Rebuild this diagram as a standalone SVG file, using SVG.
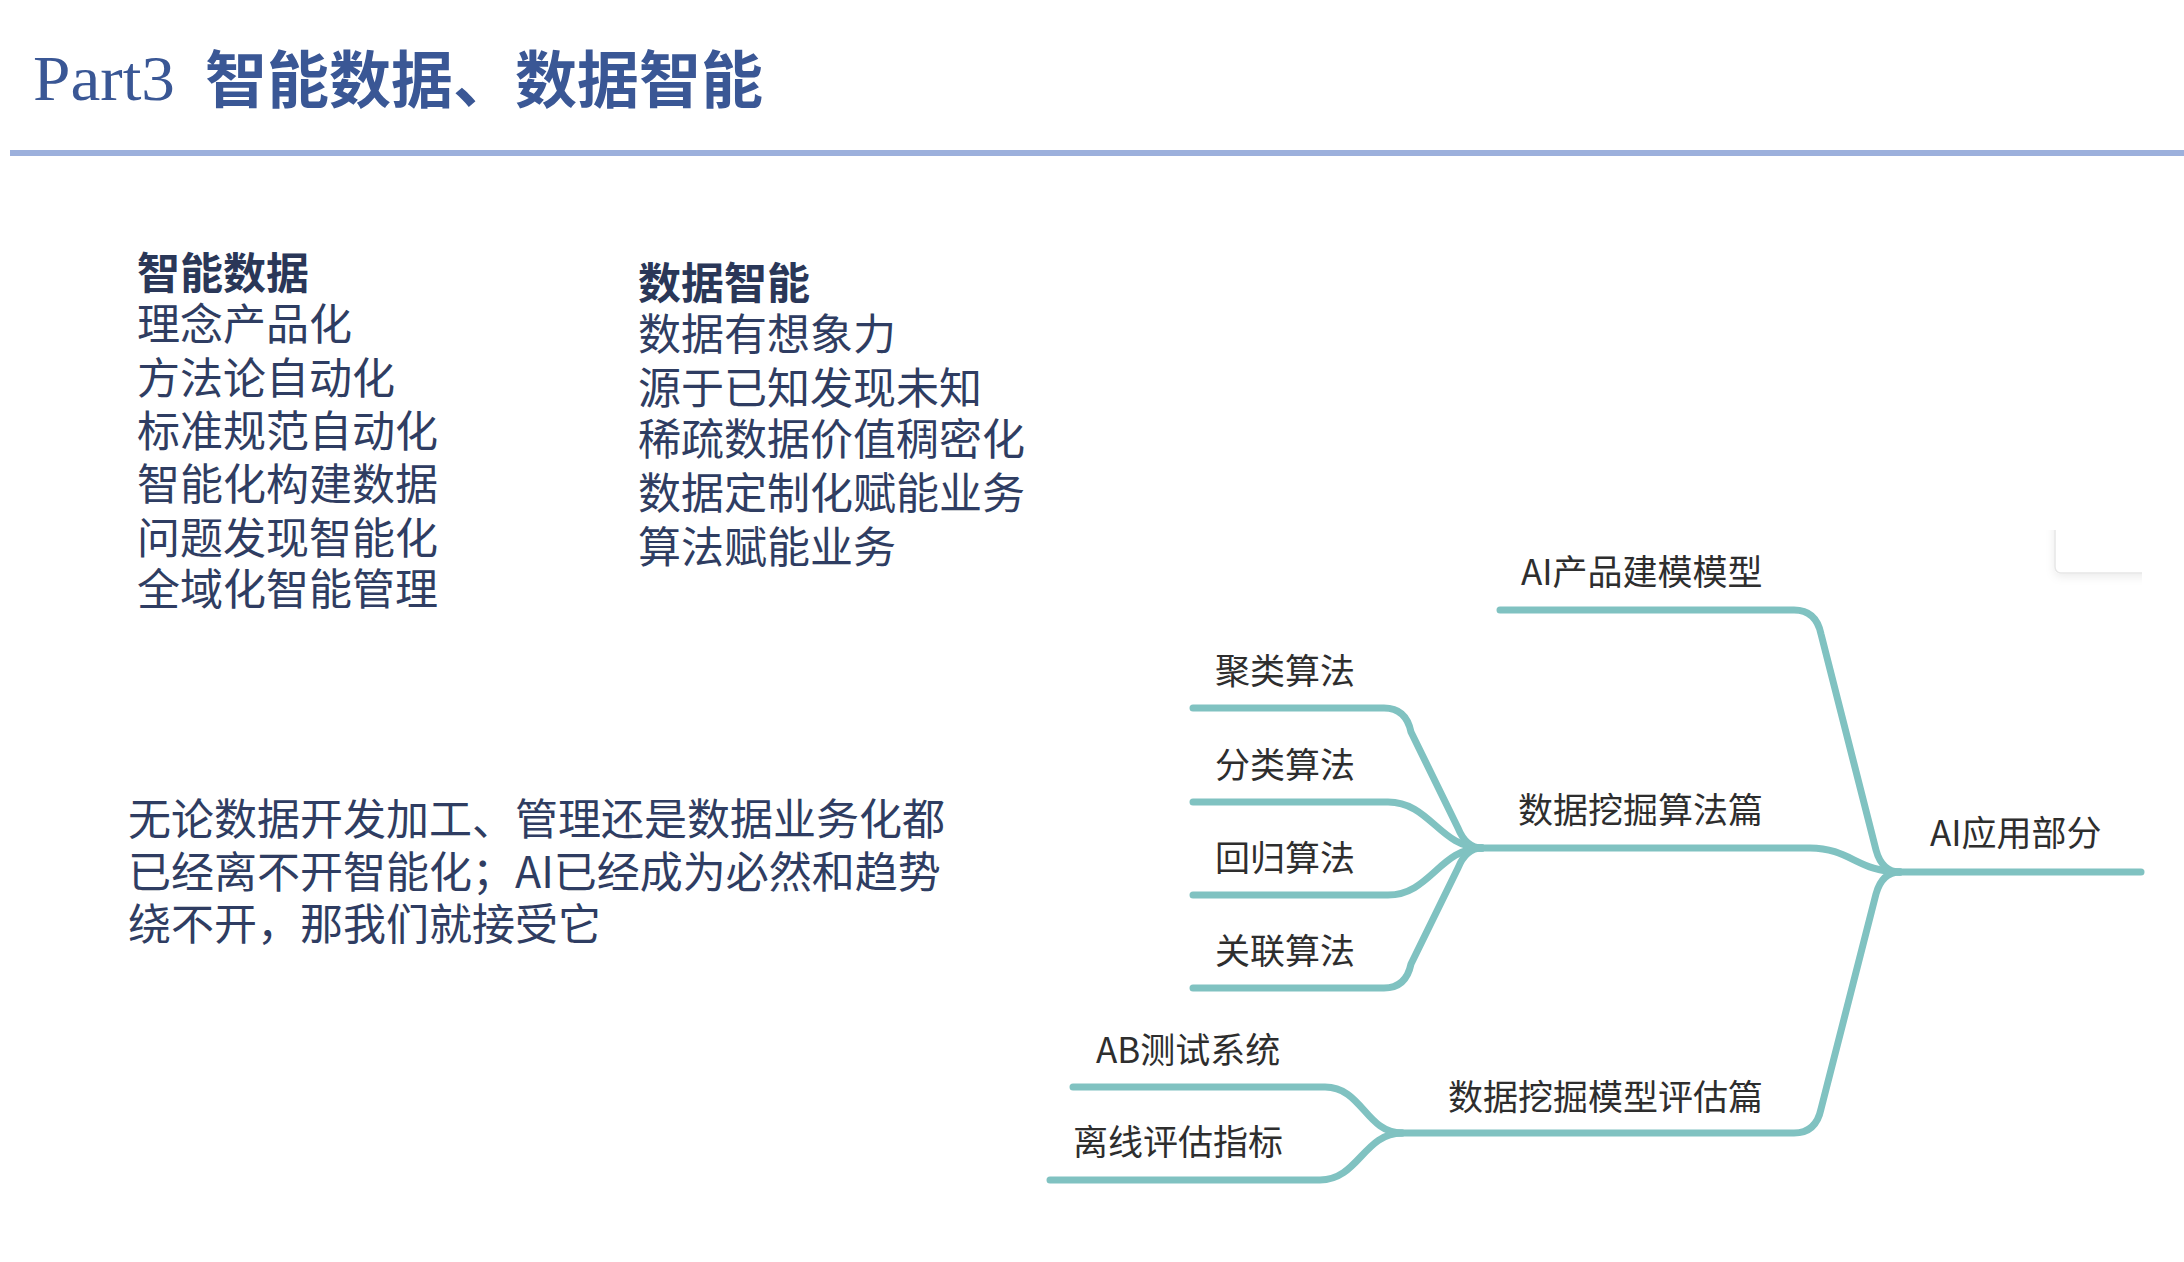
<svg xmlns="http://www.w3.org/2000/svg" width="2184" height="1262" viewBox="0 0 2184 1262">
<defs>
<style>
.cjk{font-family:"Noto Sans CJK SC","Noto Sans",sans-serif}
.ttl{fill:#3a5795;font-weight:bold;font-size:62px}
.hd{fill:#2a3758;font-weight:bold;font-size:43px}
.bd{fill:#2f3d62;font-size:43px}
.mm{fill:#2e2e2e;font-size:35px}
.br{fill:none;stroke:#80c2c1;stroke-width:7;stroke-linecap:round;stroke-linejoin:round}
</style>
<clipPath id="cardclip"><rect x="2030" y="530" width="112" height="70"/></clipPath>
<filter id="sh" x="-30%" y="-30%" width="160%" height="160%"><feDropShadow dx="0" dy="3" stdDeviation="5" flood-color="#000" flood-opacity="0.08"/></filter>
</defs>
<rect width="2184" height="1262" fill="#ffffff"/>

<g id="title">
<text x="33" y="100" font-family="Liberation Serif,serif" font-size="64" fill="#3a5795" textLength="142" lengthAdjust="spacingAndGlyphs">Part3</text>
<text x="205" y="103" class="cjk ttl">智能数据、数据智能</text>
<rect x="10" y="150" width="2174" height="6" fill="#9cb0dc"/>
</g>

<g id="col-left" class="cjk">
<text x="137" y="289" class="hd">智能数据</text>
<text x="137" y="340" class="bd">理念产品化</text>
<text x="137" y="394" class="bd">方法论自动化</text>
<text x="137" y="447" class="bd">标准规范自动化</text>
<text x="137" y="500" class="bd">智能化构建数据</text>
<text x="137" y="554" class="bd">问题发现智能化</text>
<text x="137" y="605" class="bd">全域化智能管理</text>
</g>

<g id="col-right" class="cjk">
<text x="638" y="299" class="hd">数据智能</text>
<text x="638" y="350" class="bd">数据有想象力</text>
<text x="638" y="404" class="bd">源于已知发现未知</text>
<text x="638" y="455" class="bd">稀疏数据价值稠密化</text>
<text x="638" y="509" class="bd">数据定制化赋能业务</text>
<text x="638" y="563" class="bd">算法赋能业务</text>
</g>

<g id="paragraph" class="cjk">
<text x="128" y="835" class="bd">无论数据开发加工、管理还是数据业务化都</text>
<text x="128" y="888" class="bd">已经离不开智能化；AI已经成为必然和趋势</text>
<text x="128" y="940" class="bd">绕不开，那我们就接受它</text>
</g>

<g id="card" clip-path="url(#cardclip)">
<rect x="2055" y="470" width="130" height="103" rx="6" fill="#ffffff" stroke="#e6e6e6" stroke-width="1.5" filter="url(#sh)"/>
</g>

<g id="connectors">
<path class="br" d="M 1894 872 H 2141"/>
<path class="br" d="M 1500 610 H 1794 Q 1816 610 1821 634 L 1876 850 Q 1882 872 1900 872"/>
<path class="br" d="M 1478 848 H 1810 C 1850 848 1858 872 1900 872"/>
<path class="br" d="M 1397 1133 H 1794 Q 1816 1133 1821 1109 L 1876 894 Q 1882 872 1900 872"/>
<path class="br" d="M 1193 708 H 1384 Q 1406 708 1411 732 L 1458 828 Q 1466 848 1482 848"/>
<path class="br" d="M 1193 802 H 1388 C 1430 802 1440 848 1482 848"/>
<path class="br" d="M 1193 895 H 1388 C 1430 895 1440 848 1482 848"/>
<path class="br" d="M 1193 988 H 1384 Q 1406 988 1411 964 L 1458 868 Q 1466 848 1482 848"/>
<path class="br" d="M 1073 1087 H 1325 C 1362 1087 1366 1133 1402 1133"/>
<path class="br" d="M 1050 1180 H 1320 C 1358 1180 1364 1133 1402 1133"/>
</g>

<g id="node-root" class="cjk"><text x="1930" y="846" class="mm" font-size="36">AI应用部分</text></g>
<g id="node-ai-model" class="cjk"><text x="1521" y="585" class="mm">AI产品建模模型</text></g>
<g id="node-algo" class="cjk"><text x="1518" y="823" class="mm">数据挖掘算法篇</text></g>
<g id="node-cluster" class="cjk"><text x="1215" y="684" class="mm">聚类算法</text></g>
<g id="node-classify" class="cjk"><text x="1215" y="778" class="mm">分类算法</text></g>
<g id="node-regress" class="cjk"><text x="1215" y="871" class="mm">回归算法</text></g>
<g id="node-assoc" class="cjk"><text x="1215" y="964" class="mm">关联算法</text></g>
<g id="node-eval" class="cjk"><text x="1448" y="1110" class="mm">数据挖掘模型评估篇</text></g>
<g id="node-ab" class="cjk"><text x="1096" y="1063" class="mm">AB测试系统</text></g>
<g id="node-offline" class="cjk"><text x="1073" y="1155" class="mm">离线评估指标</text></g>
</svg>
